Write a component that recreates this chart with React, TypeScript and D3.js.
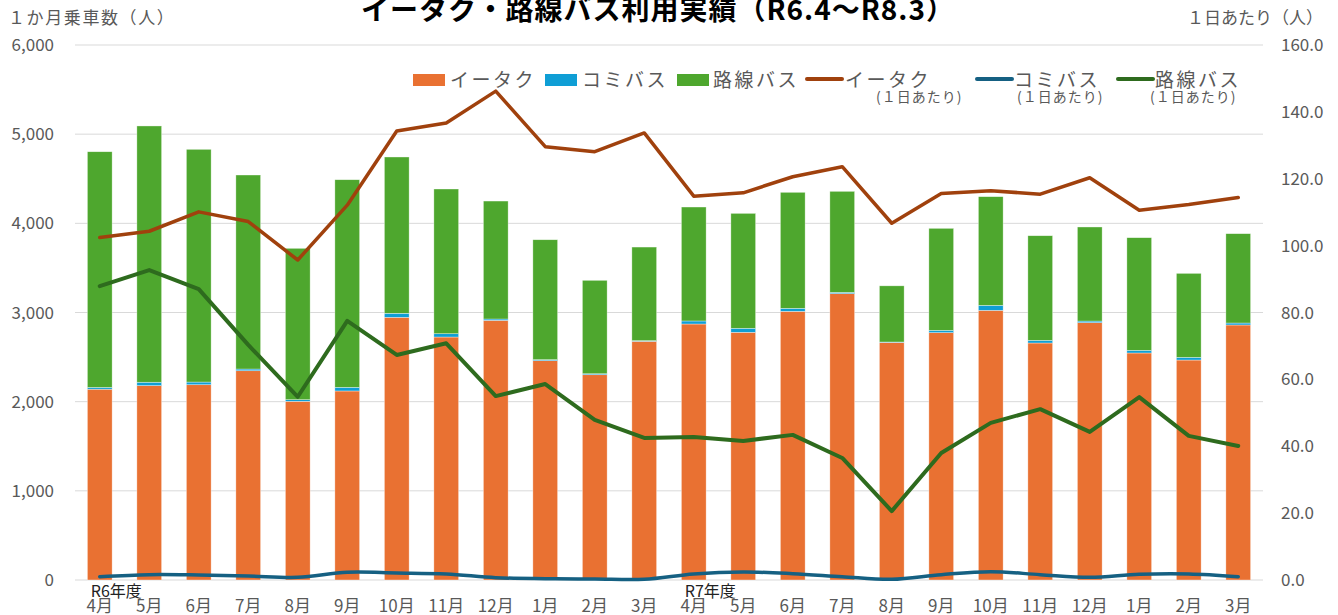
import React from "react";
import * as d3 from "d3";

const months = ["4月","5月","6月","7月","8月","9月","10月","11月","12月","1月","2月","3月","4月","5月","6月","7月","8月","9月","10月","11月","12月","1月","2月","3月"];
const fiscalLabels = [{ index: 0, label: "R6年度" }, { index: 12, label: "R7年度" }];

const itaku = [2140,2180,2190,2347,2004,2120,2946,2725,2912,2460,2302,2677,2871,2778,3013,3211,2664,2774,3024,2658,2886,2546,2467,2860];
const comiBus = [20,38,30,19,18,41,45,37,15,11,11,7,34,45,34,15,5,26,56,30,18,30,30,22];
const rosenBus = [2643,2874,2610,2176,1698,2328,1753,1623,1323,1345,1048,1050,1278,1289,1301,1133,630,1144,1219,1173,1055,1263,942,1002];

const itakuDaily = [102.4,104.3,110.1,107.2,95.7,112.1,134.3,136.7,146.2,129.6,128.1,133.7,114.8,115.8,120.6,123.6,106.7,115.6,116.4,115.4,120.3,110.6,112.3,114.4];
const comiDaily = [1.0,1.6,1.5,1.2,0.8,2.3,2.1,1.8,0.7,0.4,0.3,0.2,1.8,2.4,1.9,1.0,0.2,1.6,2.5,1.6,0.8,1.7,1.8,1.0];
const rosenDaily = [87.9,92.7,87.0,70.3,54.8,77.5,67.3,70.8,55.0,58.6,47.9,42.5,42.8,41.6,43.4,36.5,20.6,38.0,47.0,51.1,44.3,54.7,43.1,40.1];

const leftTicks = [0,1000,2000,3000,4000,5000,6000];
const rightTicks = [0,20,40,60,80,100,120,140,160];

const C_ORANGE = "#E97132";
const C_BLUE = "#0F9ED5";
const C_GREEN = "#4EA72E";
const C_BROWN = "#A0410D";
const C_TEAL = "#156082";
const C_DKGREEN = "#2E6B1E";
const FONT = "'Noto Sans CJK JP', 'Noto Sans', sans-serif";
const GRAY = "#595959";

export default function App() {
  const W = 1338, H = 615;
  const x0 = 75, x1 = 1263, yTop = 45, yBot = 580;
  const x = d3.scaleBand<string>().domain(months.map((_, i) => String(i))).range([x0, x1]).paddingInner(0.5).paddingOuter(0.25);
  const yL = d3.scaleLinear().domain([0, 6000]).range([yBot, yTop]);
  const yR = d3.scaleLinear().domain([0, 160]).range([yBot, yTop]);
  const cx = (i: number) => (x(String(i)) as number) + x.bandwidth() / 2;

  const stackData = months.map((_, i) => ({ i, itaku: itaku[i], comi: comiBus[i], rosen: rosenBus[i] }));
  const stack = d3.stack<any>().keys(["itaku", "comi", "rosen"])(stackData);
  const colors: Record<string, string> = { itaku: C_ORANGE, comi: C_BLUE, rosen: C_GREEN };

  const lineStraight = d3.line<number>().x((_, i) => cx(i)).y((d) => yR(d));
  const lineSmooth = d3.line<number>().x((_, i) => cx(i)).y((d) => yR(d)).curve(d3.curveCatmullRom.alpha(0.5));

  const legendRects = [
    { x: 413, color: C_ORANGE, label: "イータク", tx: 450 },
    { x: 545, color: C_BLUE, label: "コミバス", tx: 582 },
    { x: 677, color: C_GREEN, label: "路線バス", tx: 713 },
  ];
  const legendLines = [
    { x: 807, color: C_BROWN, label: "イータク", tx: 845, sx: 876 },
    { x: 977, color: C_TEAL, label: "コミバス", tx: 1014, sx: 1017 },
    { x: 1118, color: C_DKGREEN, label: "路線バス", tx: 1155, sx: 1150 },
  ];

  return (
    <svg width={W} height={H} style={{ position: "absolute", left: 0, top: 0, background: "#fff" }} fontFamily={FONT}>
      {leftTicks.map((t) => (
        <line key={"g" + t} x1={x0} x2={x1} y1={yL(t)} y2={yL(t)} stroke="#D9D9D9" strokeWidth={1} />
      ))}
      {stack.map((s) => (
        <g key={s.key} fill={colors[s.key]}>
          {s.map((d, i) => (
            <rect key={i} x={x(String(i))} width={x.bandwidth()} y={yL(d[1])} height={Math.max(0, yL(d[0]) - yL(d[1]))} stroke="#fff" strokeWidth={0.6} strokeOpacity={0.6} />
          ))}
        </g>
      ))}
      <path d={lineStraight(itakuDaily) || ""} fill="none" stroke={C_BROWN} strokeWidth={3.5} strokeLinejoin="round" strokeLinecap="round" />
      <path d={lineSmooth(comiDaily) || ""} fill="none" stroke={C_TEAL} strokeWidth={3.5} strokeLinejoin="round" strokeLinecap="round" />
      <path d={lineStraight(rosenDaily) || ""} fill="none" stroke={C_DKGREEN} strokeWidth={4} strokeLinejoin="round" strokeLinecap="round" />

      {leftTicks.map((t) => (
        <text key={"l" + t} x={54} y={yL(t) + 6} textAnchor="end" fontSize={17} fill={GRAY}>{d3.format(",")(t)}</text>
      ))}
      {rightTicks.map((t) => (
        <text key={"r" + t} x={1281} y={yR(t) + 6} textAnchor="start" fontSize={17} fill={GRAY}>{t.toFixed(1)}</text>
      ))}
      {months.map((m, i) => (
        <text key={"m" + i} x={cx(i)} y={612} textAnchor="middle" fontSize={17} fill={GRAY}>{m}</text>
      ))}
      {fiscalLabels.map((f) => (
        <text key={f.label} x={cx(f.index) - 9} y={597} textAnchor="start" fontSize={16} fill="#222">{f.label}</text>
      ))}

      <text x={8} y={24} fontSize={17} fill={GRAY} letterSpacing={1.6}>１か月乗車数（人）</text>
      <text x={1323} y={24} fontSize={17} fill={GRAY} textAnchor="end">１日あたり（人）</text>
      <text x={658} y={20} fontSize={28} fontWeight="bold" fill="#000" textAnchor="middle" letterSpacing={1}>イータク・路線バス利用実績（R6.4～R8.3）</text>

      {legendRects.map((l) => (
        <g key={l.label}>
          <rect x={l.x} y={74} width={32} height={12} fill={l.color} />
          <text x={l.tx} y={87} fontSize={19} fill={GRAY} letterSpacing={2.5}>{l.label}</text>
        </g>
      ))}
      {legendLines.map((l) => (
        <g key={l.label + "d"}>
          <line x1={l.x} x2={l.x + 35} y1={79} y2={79} stroke={l.color} strokeWidth={4} strokeLinecap="round" />
          <text x={l.tx} y={87} fontSize={19} fill={GRAY} letterSpacing={2.5}>{l.label}</text>
          <text x={l.sx} y={102} fontSize={14} fill={GRAY} letterSpacing={1}>(１日あたり)</text>
        </g>
      ))}
    </svg>
  );
}
